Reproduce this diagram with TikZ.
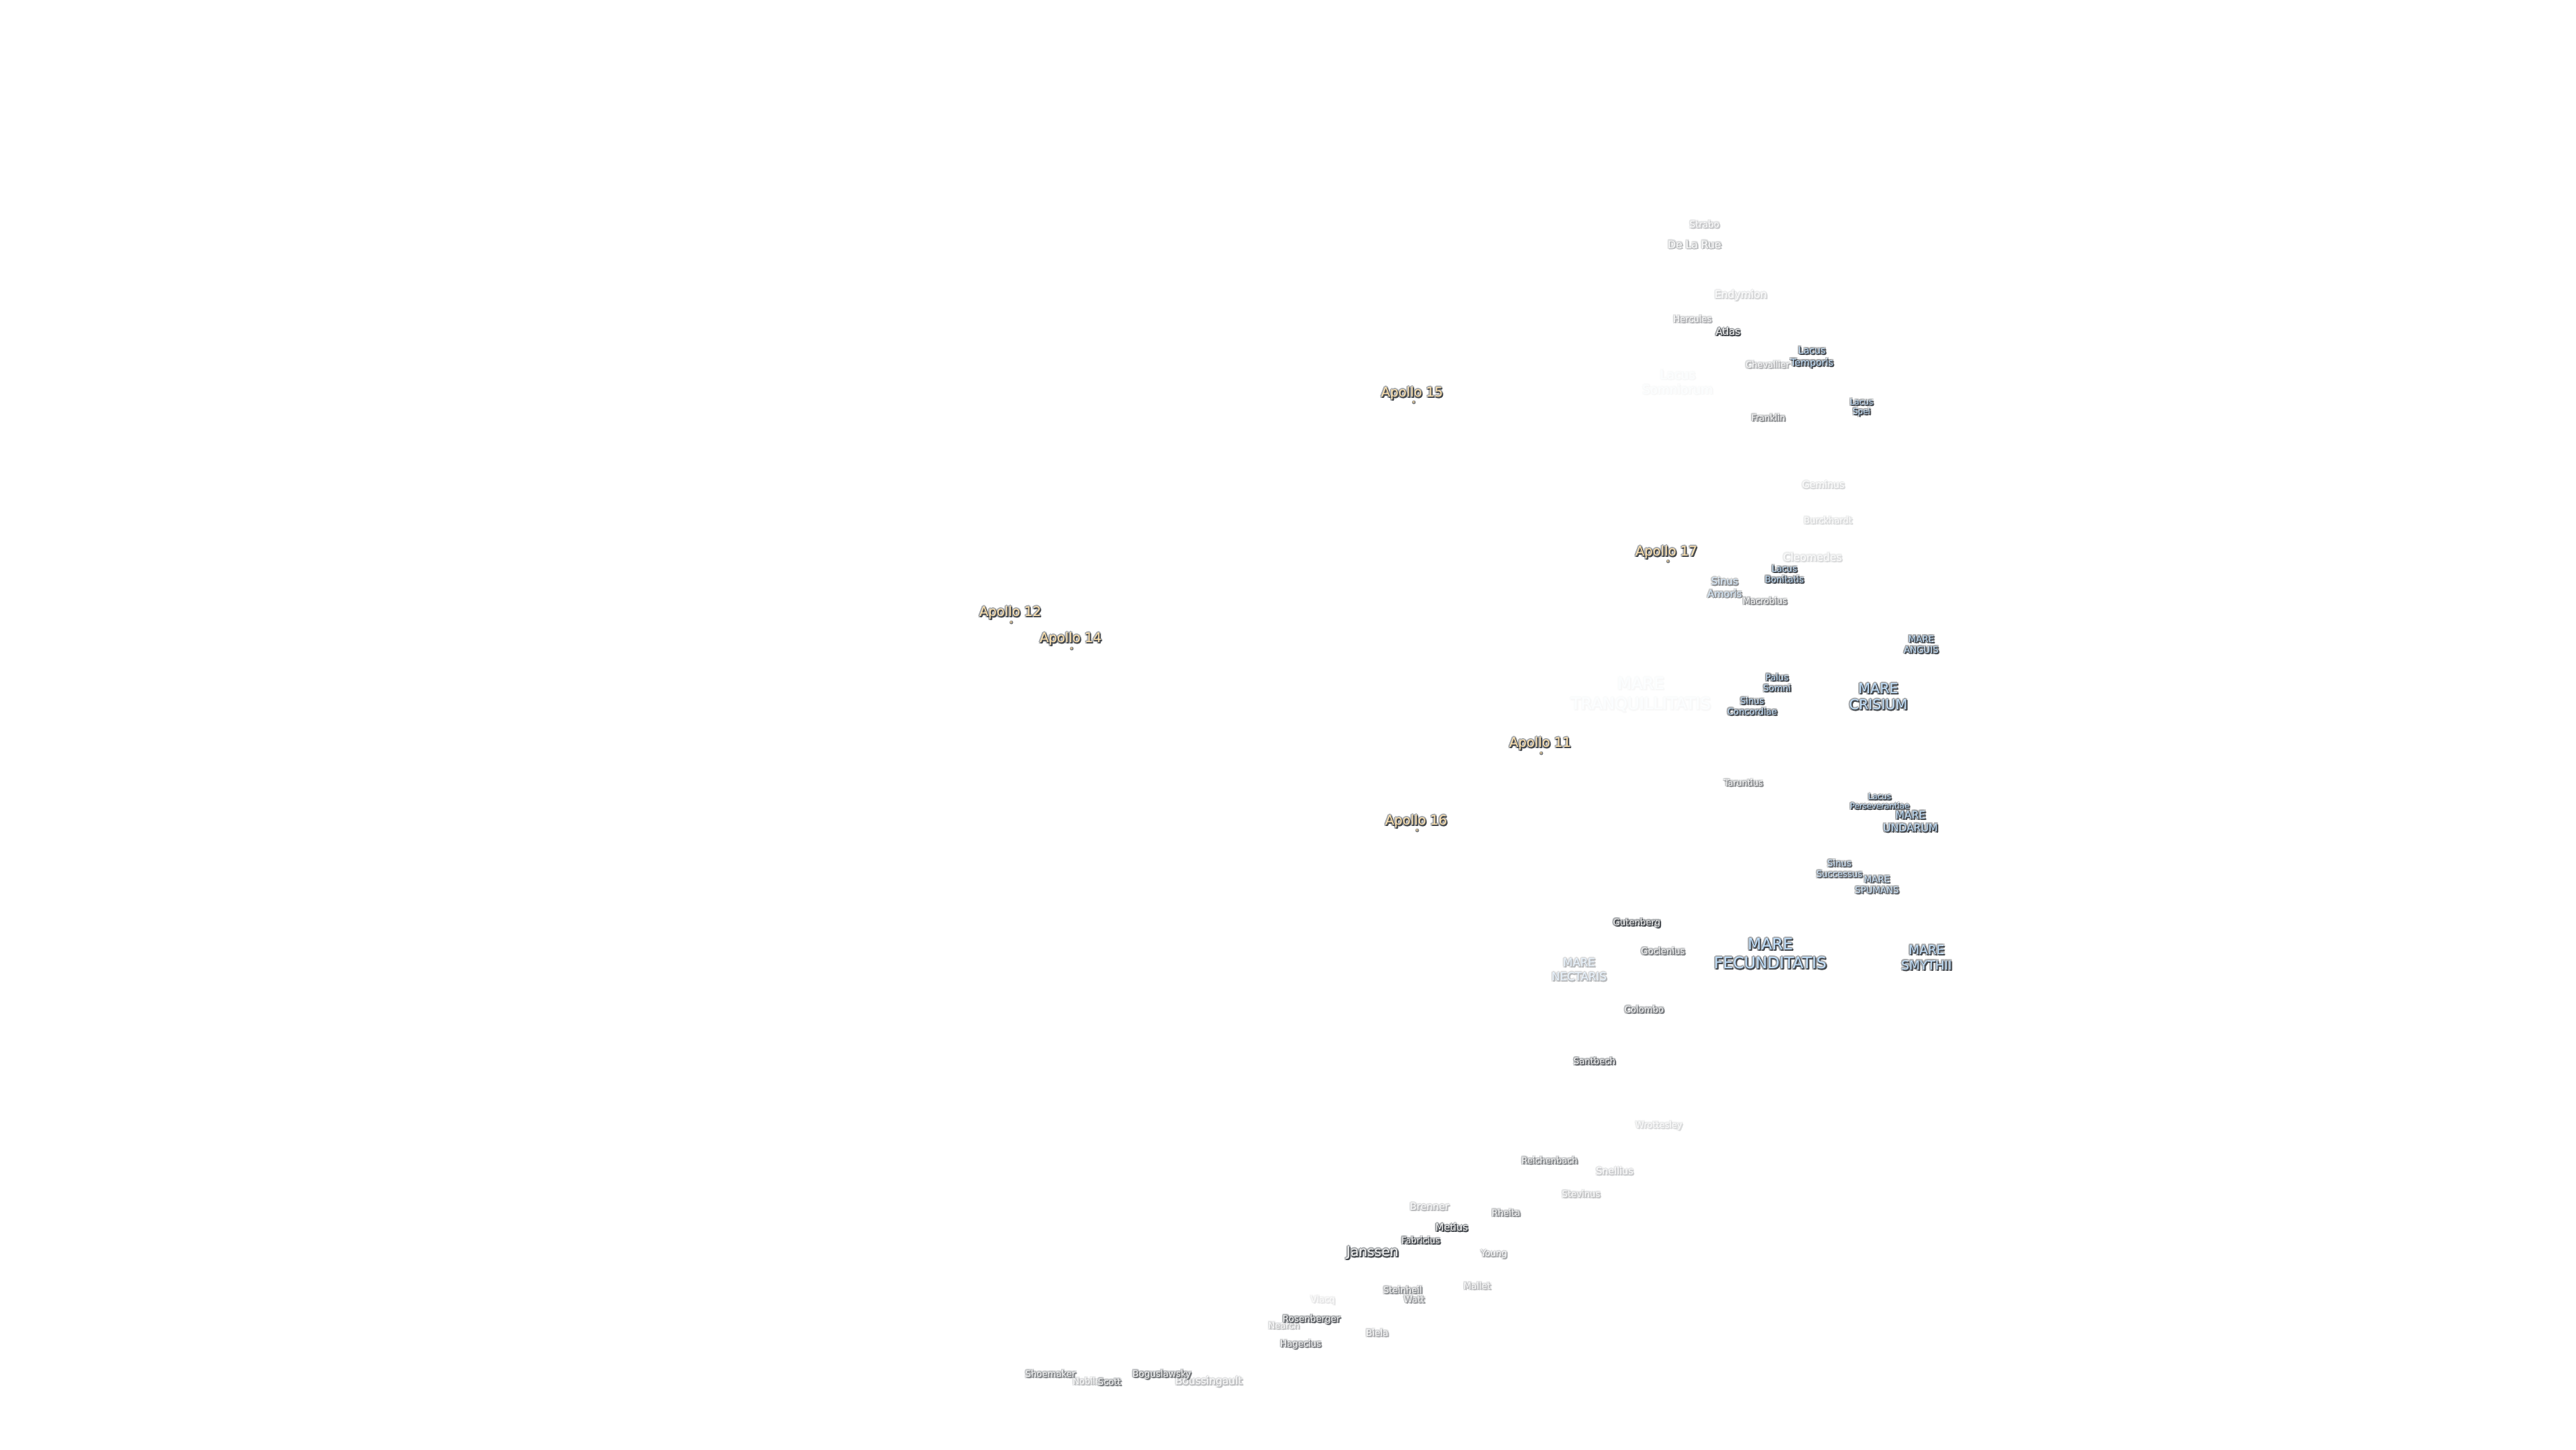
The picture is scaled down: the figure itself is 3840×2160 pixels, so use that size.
\documentclass[tikz,border=0pt]{standalone}
\usepackage{fontspec}
\setmainfont{DejaVu Sans}
\definecolor{marefill}{HTML}{BFDDF8}
\definecolor{craterfill}{HTML}{F4F4F4}
\definecolor{apollofill}{HTML}{FFE2AE}
\definecolor{lbdark}{HTML}{45494E}
\definecolor{lbhalo}{HTML}{A6A9AC}
\tikzset{labeltext/.style={inner sep=0pt,outer sep=0pt,align=center},
  sitedot/.style={circle,inner sep=0pt}}
% name, x, y, font px, line px, fill colour, strength, text
\newcommand\lab[8]{%
  \pgfmathsetmacro\fsz{#4*0.28453}\pgfmathsetmacro\lsk{#5*0.28453}%
  \colorlet{lf}{#6!#7!white}\colorlet{ld}{lbdark!#7!white}\colorlet{lh}{lbhalo!#7!white}%
  \foreach \hx/\hy [count=\hi] in {-1.7/-1.7,0/-2,1.7/-1.7,-2/0,-1.7/1.7,0/2,2.6/1}{%
    \node[labeltext,text=lh,font=\fontsize{\fsz pt}{\lsk pt}\selectfont] (#1-h\hi) at (#2+\hx,#3+1.5+\hy) {#8};}%
  \foreach \hx/\hy [count=\hi] in {1.3/0.4,0.4/1.3,1.5/1.5,0.9/0.9,1.9/1.9}{%
    \node[labeltext,text=ld,font=\fontsize{\fsz pt}{\lsk pt}\selectfont] (#1-s\hi) at (#2+\hx,#3+1.5+\hy) {#8};}%
  \node[labeltext,text=lf,font=\fontsize{\fsz pt}{\lsk pt}\selectfont] (#1) at (#2,#3+1.5) {#8};%
}
% name, x, y
\newcommand\sitemark[3]{%
  \node[sitedot,fill=lbdark!70!white,minimum size=1.6pt] (#1-h) at (#2+0.6,#3+0.6) {};%
  \node[sitedot,fill=apollofill!85!black,minimum size=1pt] (#1) at (#2,#3) {};%
}
\begin{document}
\begin{tikzpicture}[x=0.01cm,y=-0.01cm]
\useasboundingbox (0,0) rectangle (3840,2160);
\fill[white] (0,0) rectangle (3840,2160);
% faint labels first
\lab{tranq}{2446}{1034}{24.2}{30}{marefill}{4}{MARE\\TRANQUILLITATIS}
\lab{somniorum}{2501}{568}{18.2}{22}{marefill}{4}{Lacus\\Somniorum}
\lab{vlacq}{1972}{1936}{13}{16}{craterfill}{14}{Vlacq}
\lab{endymion}{2595}{439}{15.6}{18}{craterfill}{22}{Endymion}
\lab{geminus}{2718}{721}{14.2}{16}{craterfill}{20}{Geminus}
\lab{burckhardt}{2725}{774}{13}{16}{craterfill}{20}{Burckhardt}
\lab{cleomedes}{2702}{829}{15.7}{18}{craterfill}{20}{Cleomedes}
\lab{wrottesley}{2473}{1676}{13}{16}{craterfill}{20}{Wrottesley}
\lab{snellius}{2407}{1744}{14.3}{18}{craterfill}{28}{Snellius}
\lab{stevinus}{2357}{1778}{13.2}{16}{craterfill}{32}{Stevinus}
\lab{strabo}{2541}{333}{13.4}{16}{craterfill}{30}{Strabo}
\lab{delarue}{2526}{363}{15.6}{18}{craterfill}{38}{De La Rue}
\lab{hercules}{2523}{474}{13.1}{16}{craterfill}{42}{Hercules}
\lab{chevallier}{2635}{542}{13}{16}{craterfill}{40}{Chevallier}
\lab{brenner}{2131}{1797}{14.6}{18}{craterfill}{35}{Brenner}
\lab{mallet}{2202}{1915}{13.2}{16}{craterfill}{35}{Mallet}
\lab{young}{2227}{1868}{13}{16}{craterfill}{45}{Young}
\lab{biela}{2053}{1985}{13.5}{16}{craterfill}{42}{Biela}
\lab{nearch}{1914}{1974}{13}{16}{craterfill}{32}{Nearch}
\lab{nobile}{1620}{2057}{13}{16}{craterfill}{35}{Nobile}
\lab{boussingault}{1802}{2058}{15.5}{18}{craterfill}{35}{Boussingault}
\lab{nectaris}{2354}{1444}{16.6}{21}{marefill}{38}{MARE\\NECTARIS}
\lab{franklin}{2636}{621}{12.8}{16}{craterfill}{62}{Franklin}
\lab{taruntius}{2599}{1165}{12.6}{16}{craterfill}{62}{Taruntius}
\lab{macrobius}{2631}{894}{12.9}{16}{craterfill}{62}{Macrobius}
\lab{amoris}{2571}{874}{14.7}{18}{marefill}{62}{Sinus\\Amoris}
\lab{goclenius}{2479}{1416}{13.3}{16}{craterfill}{70}{Goclenius}
\lab{colombo}{2451}{1503}{13.2}{16}{craterfill}{72}{Colombo}
\lab{reichenbach}{2310}{1728}{13}{16}{craterfill}{65}{Reichenbach}
\lab{rheita}{2245}{1806}{13.1}{16}{craterfill}{60}{Rheita}
\lab{steinheil}{2091}{1921}{13.2}{16}{craterfill}{60}{Steinheil}
\lab{watt}{2108}{1935}{13.2}{16}{craterfill}{55}{Watt}
\lab{hagecius}{1939}{2002}{13.2}{16}{craterfill}{68}{Hagecius}
\lab{shoemaker}{1566}{2046}{13.2}{16}{craterfill}{65}{Shoemaker}
\lab{scott}{1654}{2058}{13.2}{16}{craterfill}{70}{Scott}
\lab{boguslawsky}{1732}{2047}{13.5}{16}{craterfill}{75}{Boguslawsky}
\lab{santbech}{2377}{1580}{13.2}{16}{craterfill}{85}{Santbech}
\lab{gutenberg}{2440}{1374}{13.2}{16}{craterfill}{100}{Gutenberg}
\lab{atlas}{2576}{493}{14.7}{16}{craterfill}{100}{Atlas}
\lab{metius}{2164}{1828}{14.6}{18}{craterfill}{100}{Metius}
\lab{fabricius}{2118}{1847}{13}{16}{craterfill}{100}{Fabricius}
\lab{janssen}{2046}{1866}{20.2}{24}{craterfill}{100}{Janssen}
\lab{rosenberger}{1955}{1965}{13.5}{16}{craterfill}{85}{Rosenberger}
% lunar seas and lakes
\lab{temporis}{2701}{531}{14.2}{18}{marefill}{100}{Lacus\\Temporis}
\lab{spei}{2775}{606}{12}{14}{marefill}{100}{Lacus\\Spei}
\lab{bonitatis}{2660}{854}{13.1}{16}{marefill}{100}{Lacus\\Bonitatis}
\lab{anguis}{2864}{959}{13.3}{16}{marefill}{100}{MARE\\ANGUIS}
\lab{somni}{2649}{1016}{13.1}{16}{marefill}{100}{Palus\\Somni}
\lab{concordiae}{2612}{1051}{13.1}{16}{marefill}{100}{Sinus\\Concordiae}
\lab{crisium}{2800}{1037}{20.6}{24}{marefill}{100}{MARE\\CRISIUM}
\lab{perseverantiae}{2802}{1193}{11.8}{14}{marefill}{100}{Lacus\\Perseverantiae}
\lab{undarum}{2848}{1223}{15.6}{19}{marefill}{100}{MARE\\UNDARUM}
\lab{successus}{2742}{1293}{13.2}{16}{marefill}{85}{Sinus\\Successus}
\lab{spumans}{2798}{1317}{13.3}{16}{marefill}{85}{MARE\\SPUMANS}
\lab{fecunditatis}{2639}{1420}{23.5}{28}{marefill}{100}{MARE\\FECUNDITATIS}
\lab{smythii}{2872}{1426}{18.5}{23}{marefill}{100}{MARE\\SMYTHII}
% landing sites
\lab{apollo12}{1506}{912}{19.6}{22}{apollofill}{100}{Apollo 12}
\sitemark{site12}{1507}{927}
\lab{apollo14}{1596}{951}{19.6}{22}{apollofill}{100}{Apollo 14}
\sitemark{site14}{1597}{966}
\lab{apollo15}{2105}{585}{19.6}{22}{apollofill}{100}{Apollo 15}
\sitemark{site15}{2107}{599}
\lab{apollo11}{2296}{1107}{19.6}{22}{apollofill}{100}{Apollo 11}
\sitemark{site11}{2297}{1122}
\lab{apollo16}{2111}{1223}{19.6}{22}{apollofill}{100}{Apollo 16}
\sitemark{site16}{2112}{1237}
\lab{apollo17}{2484}{822}{19.6}{22}{apollofill}{100}{Apollo 17}
\sitemark{site17}{2486}{836}
\end{tikzpicture}
\end{document}
